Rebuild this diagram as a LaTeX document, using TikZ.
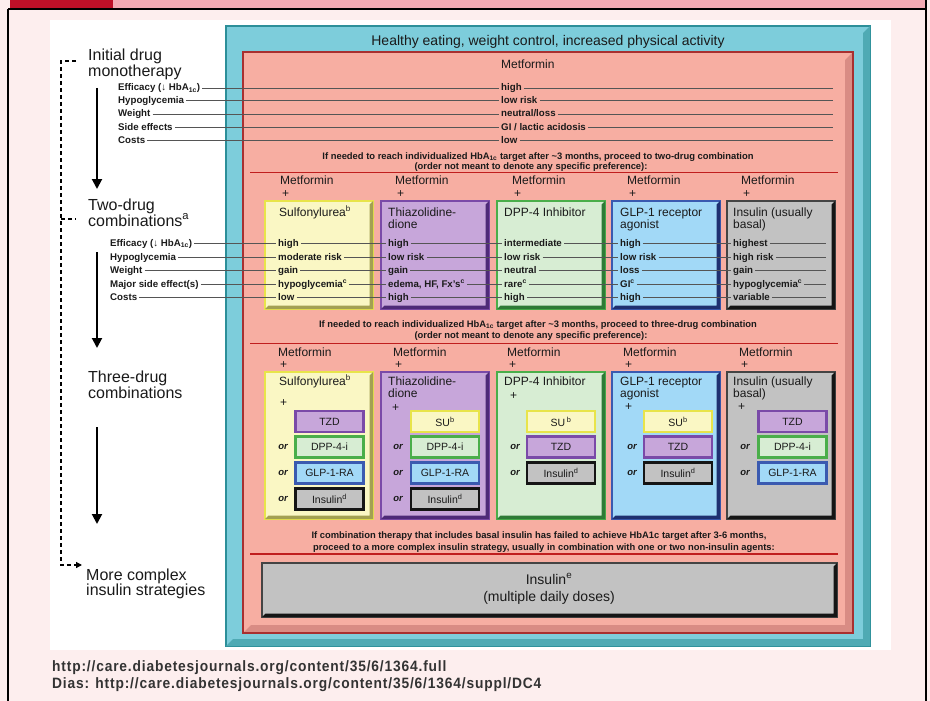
\documentclass[tikz,border=0pt]{standalone}
\usepackage{fontspec}
\setmainfont{Liberation Sans}
\newfontfamily\urlfont[FakeStretch=0.92,LetterSpace=5.5]{Liberation Sans}
\usetikzlibrary{arrows.meta,calc}
\definecolor{bgpink}{HTML}{FDEEEE}
\definecolor{barred}{HTML}{BE1028}
\definecolor{barpink}{HTML}{F4AAB4}
\definecolor{txt}{HTML}{1A1A1A}
\definecolor{lin}{HTML}{555555}
\definecolor{redl}{HTML}{C01E1E}
\definecolor{tealF}{HTML}{7DCDDB}
\definecolor{tealD}{HTML}{2C8F99}
\definecolor{tealB}{HTML}{4FAAB4}
\definecolor{salF}{HTML}{F7AEA2}
\definecolor{salD}{HTML}{A83030}
\definecolor{salB}{HTML}{D98C84}
\definecolor{yelF}{HTML}{FAF7C4}
\definecolor{yelL}{HTML}{E8E44A}
\definecolor{yelD}{HTML}{A3A052}
\definecolor{purF}{HTML}{C7A6DA}
\definecolor{purL}{HTML}{7A4AA8}
\definecolor{purD}{HTML}{4E2A78}
\definecolor{grnF}{HTML}{D7EDD3}
\definecolor{grnL}{HTML}{4AAE4A}
\definecolor{grnD}{HTML}{2E7A36}
\definecolor{bluF}{HTML}{A2D9F7}
\definecolor{bluL}{HTML}{3A5AB0}
\definecolor{bluD}{HTML}{1E3070}
\definecolor{gryF}{HTML}{C2C2C2}
\definecolor{gryL}{HTML}{444444}
\definecolor{gryD}{HTML}{151515}
\definecolor{urlc}{HTML}{333333}
\newcommand{\bevelband}[3]{%
  \fill[#3] (#1.north east) -- (#1.south east) -- (#1.south west)
    -- ($(#1.south west)+(#2,-#2)$) -- ($(#1.south east)+(-#2,-#2)$)
    -- ($(#1.north east)+(-#2,#2)$) -- cycle;}
\begin{document}
\begin{tikzpicture}[x=1pt,y=-1pt,
  sm/.style={font=\fontsize{9.7}{10}\selectfont\bfseries, inner sep=0pt, anchor=base west, text height=6.8pt, text depth=1.9pt, text=txt},
  ins/.style={font=\fontsize{9.4}{10}\selectfont\bfseries, inner sep=0pt, anchor=base, text=txt},
  md/.style={font=\fontsize{12}{14}\selectfont, inner sep=0pt, anchor=base west, text=txt},
  lg/.style={font=\fontsize{14}{16}\selectfont, inner sep=0pt, anchor=base, text=txt},
  big/.style={font=\fontsize{16}{18}\selectfont, inner sep=0pt, anchor=base west, text=txt},
  orl/.style={font=\fontsize{9.5}{10}\selectfont\bfseries\itshape, inner sep=0pt, anchor=center, text=txt},
  rowline/.style={draw=lin, line width=0.5pt, shorten <=2pt, shorten >=2pt},
  redrule/.style={draw=redl, line width=1.7pt},
  drugbox/.style={draw, line width=2.5pt, outer sep=0pt, inner sep=0pt, minimum width=108pt},
  subbox/.style={draw, line width=2.3pt, outer sep=0pt, inner sep=0pt, minimum width=68pt, minimum height=21pt, font=\fontsize{10.5}{12}\selectfont, text=txt},
  flow/.style={line width=2pt, -{Triangle[length=10pt,width=10pt]}},
  urltext/.style={font=\fontsize{15}{16}\urlfont\bfseries, inner sep=0pt, anchor=base west, text=urlc},
]
\useasboundingbox (0,0) rectangle (930,701);
% page background
\fill[bgpink] (0,0) rectangle (930,701);
\fill[barred] (10,0) rectangle (113,9);
\fill[barpink] (113,0) rectangle (926,9);
\draw[black, line width=1.2pt] (8,9) -- (926,9);
\draw[black, line width=1.2pt] (8,9) -- (8,701);
\draw[black, line width=1.2pt] (926,0) -- (926,701);
\fill[white] (50,20) rectangle (891,650);

% outer teal frame
\node[draw=tealD, fill=tealF, line width=1.5pt, outer sep=0pt, minimum width=644pt, minimum height=620pt] (outer) at (548,336) {};
\bevelband{outer}{7}{tealB}
\node[lg] (title) at (548,46) {Healthy eating, weight control, increased physical activity};
% salmon frame
\node[draw=salD, fill=salF, line width=1.5pt, outer sep=0pt, minimum width=610pt, minimum height=581pt] (inner) at (548,342.5) {};
\bevelband{inner}{8}{salB}
\draw[salD, line width=1.5pt] (inner.north west) rectangle (inner.south east);

% ---------------- monotherapy ----------------
\node[md] (metA) at (501,69) {Metformin};
\node[sm] (lA1) at (118,91) {Efficacy (\char"2193\ HbA\textsubscript{1c})};
\node[sm] (lA2) at (118,103) {Hypoglycemia};
\node[sm] (lA3) at (118,116.5) {Weight};
\node[sm] (lA4) at (118,130) {Side effects};
\node[sm] (lA5) at (118,143) {Costs};
\node[sm] (vA1) at (501,91) {high};
\node[sm] (vA2) at (501,103) {low risk};
\node[sm] (vA3) at (501,116.5) {neutral/loss};
\node[sm] (vA4) at (501,130) {GI / lactic acidosis};
\node[sm] (vA5) at (501,143) {low};
\foreach \i in {1,...,5} {
  \coordinate (eA\i) at (835, 0 |- vA\i.east);
  \draw[rowline] (lA\i.east) -- (vA\i.west);
  \draw[rowline] (vA\i.east) -- (eA\i);
}
\node[ins] (q1a) at (538,159) {If needed to reach individualized HbA\textsubscript{1c} target after \textasciitilde3 months, proceed to two-drug combination};
\node[ins] (q1b) at (531,169.5) {(order not meant to denote any specific preference):};
\coordinate (r1l) at (250,172.5); \coordinate (r1r) at (838,172.5);
\draw[redrule] (r1l) -- (r1r);

% ---------------- two-drug ----------------
\foreach \x/\n in {280/a,395/b,512/c,627/d,741/e} {
  \node[md] (mB\n) at (\x,184) {Metformin};
  \node[md] (pB\n) at (\x+2,197) {+};
}
\node[drugbox, fill=yelF, draw=yelL, minimum height=108pt] (bBa) at (319,255) {};
\node[drugbox, fill=purF, draw=purL, minimum height=108pt] (bBb) at (435,255) {};
\node[drugbox, fill=grnF, draw=grnL, minimum height=108pt] (bBc) at (551,255) {};
\node[drugbox, fill=bluF, draw=bluL, minimum height=108pt] (bBd) at (666,255) {};
\node[drugbox, fill=gryF, draw=gryL, minimum height=108pt] (bBe) at (781,255) {};
\bevelband{bBa}{3.5}{yelD}
\bevelband{bBb}{3.5}{purD}
\bevelband{bBc}{3.5}{grnD}
\bevelband{bBd}{3.5}{bluD}
\bevelband{bBe}{3.5}{gryD}
\node[md] (hBa) at (279,216) {Sulfonylurea\textsuperscript{b}};
\node[md] (hBb) at (388,216) {Thiazolidine-};
\node[md] (hBb2) at (388,228) {dione};
\node[md] (hBc) at (504,216) {DPP-4 Inhibitor};
\node[md] (hBd) at (620,216) {GLP-1 receptor};
\node[md] (hBd2) at (620,228) {agonist};
\node[md] (hBe) at (733,216) {Insulin (usually};
\node[md] (hBe2) at (733,228) {basal)};

\node[big] (two1) at (88,210) {Two-drug};
\node[big] (two2) at (88,226) {combinations\textsuperscript{a}};
\foreach \i/\y/\t in {1/246/{Efficacy (\char"2193\ HbA\textsubscript{1c})},2/260/Hypoglycemia,3/273/Weight,4/287/Major side effect(s),5/300/Costs} {
  \node[sm] (lB\i) at (110,\y) {\t};
}
\foreach \i/\y/\ta/\tb/\tc/\td/\te in {
  1/246/high/high/intermediate/high/highest,
  2/260/moderate risk/low risk/low risk/low risk/high risk,
  3/273/gain/gain/neutral/loss/gain,
  4/287/{hypoglycemia\textsuperscript{c}}/{edema, HF, Fx's\textsuperscript{c}}/{rare\textsuperscript{c}}/{GI\textsuperscript{c}}/{hypoglycemia\textsuperscript{c}},
  5/300/low/high/high/high/variable} {
  \node[sm] (vB\i a) at (278,\y) {\ta};
  \node[sm] (vB\i b) at (388,\y) {\tb};
  \node[sm] (vB\i c) at (504,\y) {\tc};
  \node[sm] (vB\i d) at (620,\y) {\td};
  \node[sm] (vB\i e) at (733,\y) {\te};
  \coordinate (eB\i) at (828, 0 |- vB\i a.east);
  \draw[rowline] (lB\i.east) -- (vB\i a.west);
  \draw[rowline] (vB\i a.east) -- (vB\i b.west);
  \draw[rowline] (vB\i b.east) -- (vB\i c.west);
  \draw[rowline] (vB\i c.east) -- (vB\i d.west);
  \draw[rowline] (vB\i d.east) -- (vB\i e.west);
  \draw[rowline] (vB\i e.east) -- (eB\i);
}
\node[ins] (q2a) at (538,327) {If needed to reach individualized HbA\textsubscript{1c} target after \textasciitilde3 months, proceed to three-drug combination};
\node[ins] (q2b) at (531,338) {(order not meant to denote any specific preference):};
\coordinate (r2l) at (250,343.5); \coordinate (r2r) at (838,343.5);
\draw[redrule] (r2l) -- (r2r);

% ---------------- three-drug ----------------
\foreach \x/\n in {278/a,393/b,507/c,623/d,739/e} {
  \node[md] (mC\n) at (\x,356) {Metformin};
  \node[md] (pC\n) at (\x+2,368) {+};
}
\node[drugbox, fill=yelF, draw=yelL, minimum height=147pt] (bCa) at (319,445.5) {};
\node[drugbox, fill=purF, draw=purL, minimum height=147pt] (bCb) at (435,445.5) {};
\node[drugbox, fill=grnF, draw=grnL, minimum height=147pt] (bCc) at (551,445.5) {};
\node[drugbox, fill=bluF, draw=bluL, minimum height=147pt] (bCd) at (666,445.5) {};
\node[drugbox, fill=gryF, draw=gryL, minimum height=147pt] (bCe) at (781,445.5) {};
\bevelband{bCa}{3.5}{yelD}
\bevelband{bCb}{3.5}{purD}
\bevelband{bCc}{3.5}{grnD}
\bevelband{bCd}{3.5}{bluD}
\bevelband{bCe}{3.5}{gryD}
\node[md] (hCa) at (279,385) {Sulfonylurea\textsuperscript{b}};
\node[md] (hCb) at (388,385) {Thiazolidine-};
\node[md] (hCb2) at (388,397) {dione};
\node[md] (hCc) at (504,385) {DPP-4 Inhibitor};
\node[md] (hCd) at (620,385) {GLP-1 receptor};
\node[md] (hCd2) at (620,397) {agonist};
\node[md] (hCe) at (733,385) {Insulin (usually};
\node[md] (hCe2) at (733,397) {basal)};
\node[md] (qa) at (280,406) {+};
\node[md] (qb) at (392,411) {+};
\node[md] (qc) at (510,399) {+};
\node[md] (qd) at (625,410) {+};
\node[md] (qe) at (738,410) {+};
% sub-boxes column a
\node[subbox, fill=purF, draw=purL] (sa1) at (329.5,421.5) {TZD};
\node[subbox, fill=grnF, draw=grnL] (sa2) at (329.5,447) {DPP-4-i};
\node[subbox, fill=bluF, draw=bluL] (sa3) at (329.5,473) {GLP-1-RA};
\node[subbox, fill=gryF, draw=gryD] (sa4) at (329.5,499) {Insulin\textsuperscript{d}};
% column b
\node[subbox, fill=yelF, draw=yelL] (sb1) at (445,421.5) {SU\textsuperscript{b}};
\node[subbox, fill=grnF, draw=grnL] (sb2) at (445,447) {DPP-4-i};
\node[subbox, fill=bluF, draw=bluL] (sb3) at (445,473) {GLP-1-RA};
\node[subbox, fill=gryF, draw=gryD] (sb4) at (445,499) {Insulin\textsuperscript{d}};
% column c
\node[subbox, fill=yelF, draw=yelL] (sc1) at (561,421.5) {SU\,\textsuperscript{b}};
\node[subbox, fill=purF, draw=purL] (sc2) at (561,447) {TZD};
\node[subbox, fill=gryF, draw=gryD] (sc3) at (561,473) {Insulin\textsuperscript{d}};
% column d
\node[subbox, fill=yelF, draw=yelL] (sd1) at (678,421.5) {SU\textsuperscript{b}};
\node[subbox, fill=purF, draw=purL] (sd2) at (678,447) {TZD};
\node[subbox, fill=gryF, draw=gryD] (sd3) at (678,473) {Insulin\textsuperscript{d}};
% column e
\node[subbox, fill=purF, draw=purL] (se1) at (792.5,421.5) {TZD};
\node[subbox, fill=grnF, draw=grnL] (se2) at (792.5,447) {DPP-4-i};
\node[subbox, fill=bluF, draw=bluL] (se3) at (792.5,473) {GLP-1-RA};
% "or"
\foreach \y/\k in {447/1,473/2,499/3} {
  \node[orl] (oa\k) at (283,\y) {or};
  \node[orl] (ob\k) at (398,\y) {or};
}
\foreach \y/\k in {447/1,473/2} {
  \node[orl] (oc\k) at (515,\y) {or};
  \node[orl] (od\k) at (632,\y) {or};
  \node[orl] (oe\k) at (745,\y) {or};
}
\node[ins] (q3a) at (539,538) {If combination therapy that includes basal insulin has failed to achieve HbA1c target after 3-6 months,};
\node[ins] (q3b) at (544,550) {proceed to a more complex insulin strategy, usually in combination with one or two non-insulin agents:};
\coordinate (r3l) at (250,554); \coordinate (r3r) at (838,554);
\draw[redrule] (r3l) -- (r3r);

% insulin MDI box
\node[draw=gryL, fill=gryF, line width=2.5pt, outer sep=0pt, minimum width=575pt, minimum height=54pt] (mdi) at (549.5,590) {};
\bevelband{mdi}{3.5}{gryD}
\node[lg] (mdi1) at (549,584) {Insulin\textsuperscript{e}};
\node[lg] (mdi2) at (549,601) {(multiple daily doses)};

% ---------------- left column ----------------
\node[big] (ini1) at (88,61) {Initial drug};
\node[big] (ini2) at (88,77) {monotherapy};
\node[big] (thr1) at (88,382) {Three-drug};
\node[big] (thr2) at (88,398) {combinations};
\node[big] (mor1) at (86,580) {More complex};
\node[big] (mor2) at (86,595) {insulin strategies};

\coordinate (a1s) at (97,88);  \coordinate (a1e) at (97,189);
\coordinate (a2s) at (97,252); \coordinate (a2e) at (97,348);
\coordinate (a3s) at (97,427); \coordinate (a3e) at (97,524);
\draw[flow] (a1s) -- (a1e);
\draw[flow] (a2s) -- (a2e);
\draw[flow] (a3s) -- (a3e);

\coordinate (d0) at (76,61);
\coordinate (d1) at (61,61);
\coordinate (d2) at (61,565);
\coordinate (d3) at (82,565);
\coordinate (dm) at (61,219);
\coordinate (dmr) at (76,219);
\draw[line width=1.3pt, dash pattern=on 4pt off 3pt, -{Triangle[length=6pt,width=6pt]}] (d0) -- (d1) -- (d2) -- (d3);
\draw[line width=1.3pt, dash pattern=on 4pt off 3pt] (dm) -- (dmr);

% ---------------- sources ----------------
\node[urltext] (src1) at (52,671) {http://care.diabetesjournals.org/content/35/6/1364.full};
\node[urltext] (src2) at (52,688) {Dias: http://care.diabetesjournals.org/content/35/6/1364/suppl/DC4};
\end{tikzpicture}
\end{document}
